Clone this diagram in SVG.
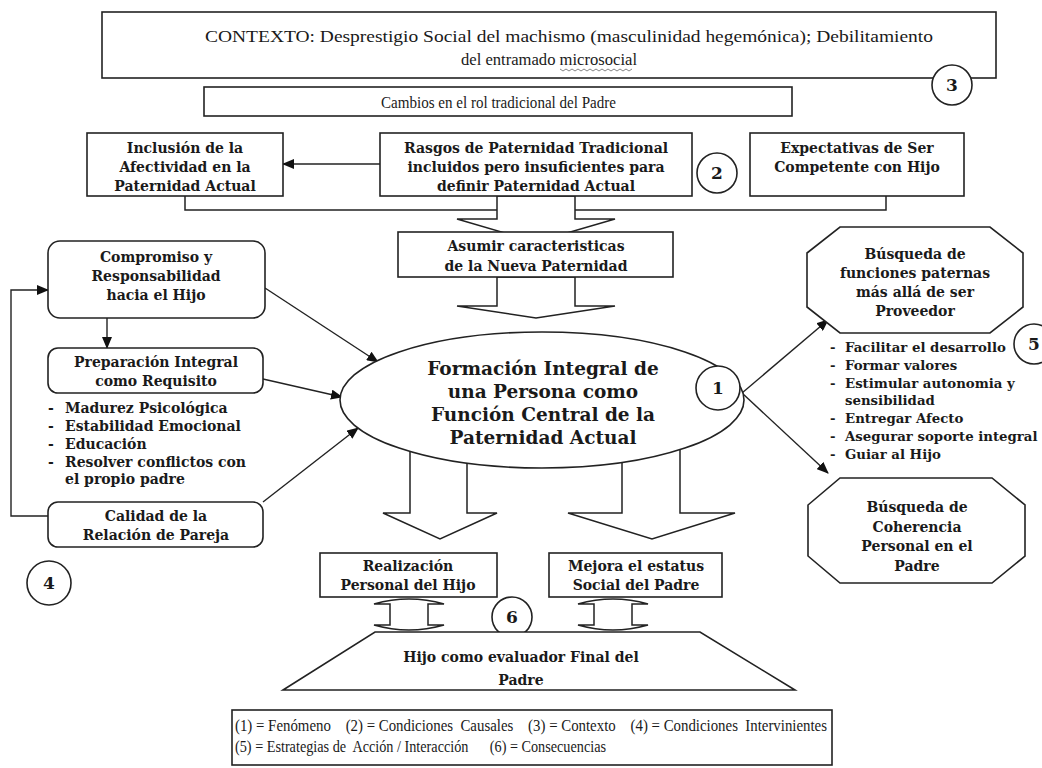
<svg xmlns="http://www.w3.org/2000/svg" width="1042" height="768" viewBox="0 0 1042 768">
<defs>
<marker id="ah" viewBox="0 0 12 10" refX="11" refY="5" markerWidth="12" markerHeight="10" markerUnits="userSpaceOnUse" orient="auto">
<path d="M0,0 L12,5 L0,10 Z" fill="#111"/>
</marker>
<style>
.box{fill:#fff;stroke:#222;stroke-width:1.6}
.ln{fill:none;stroke:#222;stroke-width:1.5}
.ar{fill:none;stroke:#222;stroke-width:1.4;marker-end:url(#ah)}
.blk{fill:#fff;stroke:#222;stroke-width:1.5}
.b{font-family:"DejaVu Serif","Liberation Serif",serif;font-weight:bold;font-size:14px;fill:#1a1a1a;text-anchor:middle}
.big{font-size:18.5px}
.li{font-family:"DejaVu Serif","Liberation Serif",serif;font-weight:bold;font-size:13.3px;fill:#1a1a1a}
.ll{font-size:14px}
.n{font-family:"Liberation Serif",serif;font-size:17px;fill:#1a1a1a}
.num{font-family:"DejaVu Serif","Liberation Serif",serif;font-weight:bold;font-size:17px;fill:#1a1a1a;text-anchor:middle}
.cir{fill:#fff;stroke:#222;stroke-width:1.6}
</style>
</defs>
<rect width="1042" height="768" fill="#fff"/>

<g id="connectors">
<path class="ln" d="M185,196 V210 H497"/>
<path class="ln" d="M886,196 V210 H575"/>
<path class="ar" d="M380,164 H283"/>
<polygon class="blk" points="497,196 575,196 575,219 615,219 536,242 457,219 497,219"/>
<polygon class="blk" points="497,277 575,277 575,306 615,306 536,318 457,306 497,306"/>
<polygon class="blk" points="410,440 467,440 467,513 497,513 440,539 383,513 410,513"/>
<polygon class="blk" points="622,440 680,440 680,513 735,513 652,539 568,513 622,513"/>
<path class="ar" d="M265,288 L378,362"/>
<path class="ar" d="M263,379 L342,397"/>
<path class="ar" d="M263,502 L358,428"/>
<path class="ar" d="M107,318 V348"/>
<path class="ar" d="M48,516 H11 V290 H48"/>
<path class="ar" d="M742,393 L828,320"/>
<path class="ar" d="M742,393 L828,473"/>
<path class="blk" d="M374,604 Q409,594 444,604 H428 V625 H444 Q409,635 374,625 H390 V604 Z"/>
<path class="blk" d="M578,604 Q613,594 648,604 H632 V625 H648 Q613,635 578,625 H594 V604 Z"/>
</g>

<g id="contexto">
<rect class="box" x="102" y="12" width="894" height="66"/>
<text class="n" x="205" y="42" font-size="18" textLength="728" lengthAdjust="spacingAndGlyphs">CONTEXTO: Desprestigio Social del machismo (masculinidad hegemónica); Debilitamiento</text>
<text class="n" x="461" y="65" font-size="18" textLength="176" lengthAdjust="spacingAndGlyphs">del entramado microsocial</text>
<path d="M560,69 l3,2 l3,-2 l3,2 l3,-2 l3,2 l3,-2 l3,2 l3,-2 l3,2 l3,-2 l3,2 l3,-2 l3,2 l3,-2 l3,2 l3,-2 l3,2 l3,-2 l3,2 l3,-2 l3,2 l3,-2 l3,2 l3,-2" fill="none" stroke="#666" stroke-width="0.8"/>
</g>
<g id="n3"><circle class="cir" cx="952" cy="85" r="20"/><text class="num" x="952" y="91">3</text></g>

<g id="cambios">
<rect class="box" x="204" y="87" width="588" height="29"/>
<text class="n" x="381" y="108" font-size="17" textLength="235" lengthAdjust="spacingAndGlyphs">Cambios en el rol tradicional del Padre</text>
</g>

<g id="inclusion">
<rect class="box" x="87" y="133" width="196" height="63"/>
<text class="b" x="185" y="153">Inclusión de la</text>
<text class="b" x="185" y="172">Afectividad en la</text>
<text class="b" x="185" y="191">Paternidad Actual</text>
</g>

<g id="rasgos">
<rect class="box" x="380" y="133" width="312" height="63"/>
<text class="b" x="536" y="153">Rasgos de Paternidad Tradicional</text>
<text class="b" x="536" y="172">incluidos pero insuficientes para</text>
<text class="b" x="536" y="191">definir Paternidad Actual</text>
</g>
<g id="n2"><circle class="cir" cx="717" cy="173" r="20"/><text class="num" x="717" y="179">2</text></g>

<g id="expectativas">
<rect class="box" x="750" y="133" width="214" height="63"/>
<text class="b" x="857" y="153">Expectativas de Ser</text>
<text class="b" x="857" y="172">Competente con Hijo</text>
</g>

<g id="asumir">
<rect class="box" x="398" y="232" width="275" height="45"/>
<text class="b" x="536" y="251">Asumir caracteristicas</text>
<text class="b" x="536" y="271">de la Nueva Paternidad</text>
</g>

<g id="formacion">
<ellipse class="box" cx="542" cy="400" rx="202" ry="68"/>
<text class="b big" x="543" y="375">Formación Integral de</text>
<text class="b big" x="543" y="398">una Persona como</text>
<text class="b big" x="543" y="421">Función Central de la</text>
<text class="b big" x="543" y="444">Paternidad Actual</text>
</g>
<g id="n1"><circle class="cir" cx="718" cy="388" r="22"/><text class="num" x="718" y="394">1</text></g>

<g id="compromiso">
<rect class="box" x="48" y="241" width="217" height="77" rx="12"/>
<text class="b" x="156" y="262">Compromiso y</text>
<text class="b" x="156" y="281">Responsabilidad</text>
<text class="b" x="156" y="300">hacia el Hijo</text>
</g>

<g id="preparacion">
<rect class="box" x="48" y="348" width="215" height="45" rx="10"/>
<text class="b" x="156" y="367">Preparación Integral</text>
<text class="b" x="156" y="386">como Requisito</text>
</g>
<g id="preparacion-lista">
<text class="li ll" x="48" y="413">-</text><text class="li ll" x="65" y="413">Madurez Psicológica</text>
<text class="li ll" x="48" y="431">-</text><text class="li ll" x="65" y="431">Estabilidad Emocional</text>
<text class="li ll" x="48" y="449">-</text><text class="li ll" x="65" y="449">Educación</text>
<text class="li ll" x="48" y="467">-</text><text class="li ll" x="65" y="467">Resolver conflictos con</text>
<text class="li ll" x="65" y="484">el propio padre</text>
</g>

<g id="calidad">
<rect class="box" x="48" y="502" width="215" height="45" rx="10"/>
<text class="b" x="156" y="521">Calidad de la</text>
<text class="b" x="156" y="540">Relación de Pareja</text>
</g>
<g id="n4"><circle class="cir" cx="49" cy="583" r="22"/><text class="num" x="49" y="589">4</text></g>

<g id="busqueda-funciones">
<polygon class="box" points="840,227 990,227 1023,253 1023,307 990,333 840,333 807,307 807,253"/>
<text class="b" x="915" y="259">Búsqueda de</text>
<text class="b" x="915" y="278">funciones paternas</text>
<text class="b" x="915" y="297">más allá de ser</text>
<text class="b" x="915" y="316">Proveedor</text>
</g>
<g id="funciones-lista">
<text class="li" x="830" y="352">-</text><text class="li" x="845" y="352">Facilitar el desarrollo</text>
<text class="li" x="830" y="370">-</text><text class="li" x="845" y="370">Formar valores</text>
<text class="li" x="830" y="388">-</text><text class="li" x="845" y="388">Estimular autonomia y</text>
<text class="li" x="845" y="405">sensibilidad</text>
<text class="li" x="830" y="423">-</text><text class="li" x="845" y="423">Entregar Afecto</text>
<text class="li" x="830" y="441">-</text><text class="li" x="845" y="441">Asegurar soporte integral</text>
<text class="li" x="830" y="459">-</text><text class="li" x="845" y="459">Guiar al Hijo</text>
</g>
<g id="n5"><circle class="cir" cx="1034" cy="344" r="20"/><text class="num" x="1034" y="350">5</text></g>

<g id="busqueda-coherencia">
<polygon class="box" points="840,478 992,478 1025,505 1025,556 992,583 840,583 808,556 808,505"/>
<text class="b" x="917" y="512">Búsqueda de</text>
<text class="b" x="917" y="532">Coherencia</text>
<text class="b" x="917" y="551">Personal en el</text>
<text class="b" x="917" y="571">Padre</text>
</g>

<g id="realizacion">
<rect class="box" x="320" y="553" width="177" height="44"/>
<text class="b" x="408" y="571">Realización</text>
<text class="b" x="408" y="590">Personal del Hijo</text>
</g>
<g id="mejora">
<rect class="box" x="549" y="553" width="173" height="44"/>
<text class="b" x="636" y="571">Mejora el estatus</text>
<text class="b" x="636" y="590">Social del Padre</text>
</g>
<g id="n6"><circle class="cir" cx="512" cy="617" r="20"/><text class="num" x="512" y="623">6</text></g>

<g id="hijo-evaluador">
<polygon class="box" points="375,632 700,632 795,690 283,690"/>
<text class="b" x="521" y="662" font-size="16">Hijo como evaluador Final del</text>
<text class="b" x="521" y="685" font-size="16">Padre</text>
</g>

<g id="leyenda">
<rect class="box" x="232" y="710" width="600" height="55" stroke-width="1.3"/>
<text class="n" xml:space="preserve" x="235" y="731" font-size="16" textLength="592" lengthAdjust="spacingAndGlyphs">(1) = Fenómeno    (2) = Condiciones  Causales    (3) = Contexto    (4) = Condiciones  Intervinientes</text>
<text class="n" xml:space="preserve" x="235" y="752" font-size="16" textLength="371" lengthAdjust="spacingAndGlyphs">(5) = Estrategias de  Acción / Interacción      (6) = Consecuencias</text>
</g>
</svg>
